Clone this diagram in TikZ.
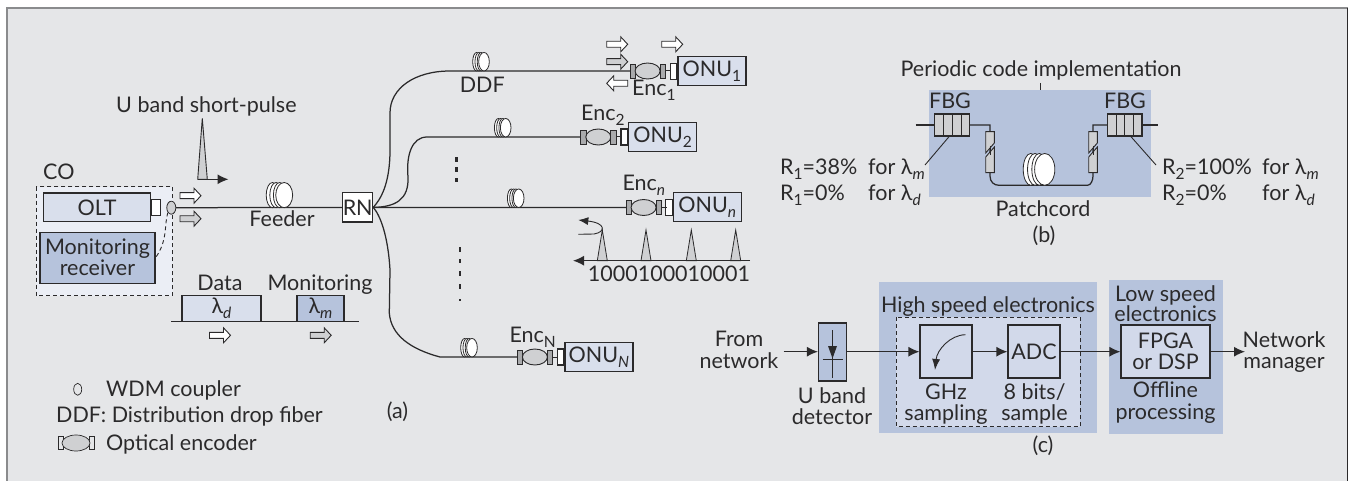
\documentclass[tikz,border=0pt]{standalone}
\usepackage{fontspec}
\setmainfont{Lato}
\usetikzlibrary{arrows.meta,calc,shapes.geometric}
\definecolor{bgg}{HTML}{E5E6E8}
\definecolor{frameg}{HTML}{8A8B8D}
\definecolor{ink}{HTML}{2B2A2B}
\definecolor{lightb}{HTML}{D9DFEC}
\definecolor{midb}{HTML}{B6C3DC}
\definecolor{paleb}{HTML}{EBEEF5}
\definecolor{innerb}{HTML}{D2D9EA}
\definecolor{greyf}{HTML}{CFD0D2}
\definecolor{greyd}{HTML}{A9AAAC}
\tikzset{
  txt/.style={text=ink,font=\fontsize{21.5}{21}\selectfont,inner sep=0pt,align=center},
  box/.style={draw=ink,line width=1.2pt,inner sep=0pt},
  onubox/.style={box,txt,fill=lightb,minimum width=68pt,minimum height=29pt,anchor=west},
  plug/.style={box,fill=white,minimum width=6.5pt,minimum height=16pt,anchor=east},
  fib/.style={draw=ink,line width=1.25pt},
  thin/.style={draw=ink,line width=0.9pt},
  conn/.style={draw=ink,line width=1.25pt,-{Latex[length=11pt,width=10pt]}},
  warrow/.style={draw=ink,line width=0.9pt,fill=#1},
  dashbox/.style={draw=ink,line width=0.9pt,dash pattern=on 4pt off 3pt},
  flowbox/.style={box,txt,fill=innerb,minimum height=53pt},
  bluezone/.style={fill=midb},
}
\newcommand{\lowsub}[1]{\raisebox{-0.42ex}{\fontsize{15.5}{15.5}\selectfont #1}}
\newcommand{\blockR}[2]{\draw[warrow=#2] ($(#1)+(-10.5,-3)$) -- ++(14,0) -- ++(0,-4.5) -- ++(7,7.5) -- ++(-7,7.5) -- ++(0,-4.5) -- ++(-14,0) -- cycle;}
\newcommand{\blockL}[2]{\draw[warrow=#2] ($(#1)+(10.5,-3)$) -- ++(-14,0) -- ++(0,-4.5) -- ++(-7,7.5) -- ++(7,7.5) -- ++(0,-4.5) -- ++(14,0) -- cycle;}
\newcommand{\coil}[3]{\begin{scope}[shift={(#1)},xscale=#2,yscale=#3]
 \foreach \dx in {-5,-3,-1}{\draw[draw=ink,fill=white,line width=0.8pt] (\dx,-9) ellipse (3.5 and 9);}
 \draw[draw=ink,fill=white,line width=0.8pt] (1.5,-9) ellipse (4.7 and 9);
 \end{scope}}
\newcommand{\enc}[1]{\begin{scope}[shift={(#1)}]
 \draw[draw=ink,fill=greyd,line width=0.9pt] (0,-7) rectangle (5.3,7);
 \draw[draw=ink,fill=greyf,line width=0.9pt] (17.6,0) ellipse (12.5 and 8);
 \draw[draw=ink,fill=greyd,line width=0.9pt] (30,-7) rectangle (35.3,7);
 \draw[draw=ink,line width=1pt] (35.3,0) -- (40.5,0);
 \end{scope}}
\begin{document}
\begin{tikzpicture}[x=1pt,y=-1pt]
\useasboundingbox (0,0) rectangle (1351,481);
\fill[white] (0,0) rectangle (1351,481);
\fill[bgg] (7,8) rectangle (1347,481);
\fill[frameg] (6,7) rectangle (1348,8.7);
\fill[frameg] (6,7) rectangle (8,481);
\fill[ink] (1347,8) rectangle (1348.3,481);

% ---- (a) CO
\node[txt,anchor=base west] (colab) at (43,179) {CO};
\draw[dashbox,fill=paleb] (36,186.7) rectangle (172.7,295.7);
\node[box,txt,fill=lightb,minimum width=107.5pt,minimum height=28.7pt] (olt) at (97,207.3) {OLT};
\node[box,fill=white,minimum width=9pt,minimum height=16pt,anchor=west] (oltc) at (150.7,207.3) {};
\node[box,txt,fill=midb,minimum width=115pt,minimum height=51pt] (mon) at (97.5,257.7) {Monitoring\\receiver};
\node[draw=ink,fill=greyf,line width=0.8pt,ellipse,minimum width=9pt,minimum height=13pt,inner sep=0pt] (wdm) at (171.3,207.7) {};
\draw[dashbox] (wdm.south west) .. controls (164,225) and (168,240) .. (mon.east);

\node[box,txt,fill=white,minimum width=29.3pt,minimum height=29.3pt] (rn) at (357.7,207.4) {RN};
\draw[fib] (wdm.east) -- (rn.west);
\coil{281.5,207.7}{1.8}{1.4}
\node[txt,anchor=base] (feeder) at (282,226.7) {Feeder};

\blockR{190.5,195.7}{white}
\blockR{190.5,218.7}{greyf}

% U band short-pulse
\node[txt,anchor=base west] (uband) at (116,112.7) {U band short-pulse};
\draw[draw=ink,fill=greyf,line width=0.9pt] (197.7,179.3) -- (202.3,118.3) -- (207.3,179.3) -- cycle;
\coordinate (p0) at (197.7,179.3);
\coordinate (p1) at (228.5,179.3);
\draw[conn] (p0) -- (p1);

% Data and monitoring
\node[txt,anchor=base] (data) at (220,290) {Data};
\node[txt,anchor=base] (moni) at (320,290) {Monitoring};
\node[box,txt,fill=lightb,minimum width=79pt,minimum height=25.6pt] (ld) at (221.5,308.5) {λ\lowsub{\itshape d}};
\node[box,txt,fill=midb,minimum width=47pt,minimum height=25.6pt] (lm) at (320.5,308.5) {λ\lowsub{\itshape m}};
\coordinate (b0) at (171,321.3); \coordinate (b1) at (359,321.3);
\draw[fib] (b0) -- (b1);
\blockR{220,335.3}{white}
\blockR{320.7,335.3}{greyf}

% Legend
\node[draw=ink,fill=bgg,line width=0.7pt,ellipse,minimum width=8pt,minimum height=12pt,inner sep=0pt] (legw) at (77.7,389.3) {};
\node[txt,anchor=base west] (l1) at (106,396) {WDM coupler};
\node[txt,anchor=base west] (l2) at (56,422) {DDF: Distribution drop fiber};
\begin{scope}[shift={(58,443)}]
 \draw[draw=ink,fill=bgg,line width=0.7pt] (0,-6.5) rectangle (5,6.5);
 \draw[draw=ink,fill=bgg,line width=0.7pt] (31,-6.5) rectangle (36,6.5);
 \draw[draw=ink,fill=greyf,line width=0.7pt] (18,0) ellipse (14 and 8);
\end{scope}
\node[txt,anchor=base west] (l3) at (106,450.7) {Optical encoder};
\node[txt,anchor=base] (la) at (397.5,418.5) {(a)};

% ---- ONUs
\node[onubox] (o1) at (677.3,71.3) {ONU\lowsub{1}};
\node[plug] (o1c) at (o1.west) {};
\enc{630,71}
\node[onubox] (o2) at (628,137) {ONU\lowsub{2}};
\node[plug] (o2c) at (o2.west) {};
\enc{580.7,137}
\node[onubox] (on) at (672.7,207.3) {ONU\lowsub{\itshape n}};
\node[plug] (onc) at (on.west) {};
\enc{626,207.5}
\node[onubox] (oN) at (564.3,357) {ONU\lowsub{\itshape N}};
\node[plug] (oNc) at (oN.west) {};
\enc{517.3,357}

\coordinate (e1) at (630,71); \coordinate (e2) at (580.7,137); \coordinate (en) at (626,207.5); \coordinate (eN) at (517.3,357);
\draw[fib] (rn.east) .. controls (380,200) and (390,185) .. (390,150) -- (390,113) .. controls (390,88) and (415,71) .. (450,71) -- (e1);
\draw[fib] (rn.east) .. controls (395,207) and (409,200) .. (408,177) .. controls (406,155) and (412,137) .. (427,137) -- (e2);
\draw[fib] (rn.east) -- (en);
\draw[fib] (rn.east) .. controls (380,215) and (388,235) .. (390,270) -- (389.3,313) .. controls (391,335) and (410,349) .. (440,357) -- (eN);
\coil{482.3,71}{1.13}{1.03}
\coil{504,137}{1.13}{1.03}
\coil{517,207.5}{1.13}{1.03}
\coil{470.3,357}{1.13}{1.03}

\node[txt,anchor=base] (ddf) at (482.3,92.7) {DDF};
\node[txt,anchor=base west] (en1) at (632,96) {Enc\lowsub{1}};
\node[txt,anchor=base west] (en2) at (581,120.7) {Enc\lowsub{2}};
\node[txt,anchor=base west] (enn) at (622.3,191) {Enc\lowsub{\itshape n}};
\node[txt,anchor=base west] (enN) at (509.3,342.7) {Enc\lowsub{N}};

\blockR{617.2,44.3}{white}
\blockR{672.2,44.3}{white}
\blockR{617.2,61.7}{greyf}
\blockL{617.2,83.3}{white}

% dots
\foreach \ya/\yb in {156.7/162,166.7/171.7,177.7/182} \fill[ink] (454.5,\ya) rectangle (457.5,\yb);
\foreach \ya/\yb in {247/251.5,258.5/263,271/275.5,284/288.5,299/301} \fill[ink] (458.7,\ya) rectangle (461.3,\yb);

% pulses
\foreach \x in {602.3,646,691.3,735.7}{\draw[draw=ink,fill=greyf,line width=0.8pt] (\x-5,260.7) -- (\x,230) -- (\x+5,260.7) -- cycle;}
\coordinate (pa) at (750,260.7); \coordinate (pb) at (573,260.7);
\draw[conn] (pa) -- (pb);
\node[txt,anchor=base] (code) at (669,281.7) {1000100010001};
\coordinate (ra) at (578.3,234.3); \coordinate (rb) at (578.3,220);
\draw[draw=ink,line width=0.9pt,-{Latex[length=10pt,width=8pt]}] (ra) -- (594,234) .. controls (606,232) and (606,223) .. (rb);

% ---- (b)
\fill[bluezone] (929,90) rectangle (1151,196.7);
\node[txt,anchor=base] (pci) at (1041,76.7) {Periodic code implementation};
\coordinate (pct) at (1040,83);
\draw[thin] (pct) -- (1040,90);
\node[txt,anchor=base] (fbg1) at (950,109) {FBG};
\node[txt,anchor=base] (fbg2) at (1125,109) {FBG};
\node[box,fill=greyf,minimum width=35pt,minimum height=22pt] (g1) at (952.1,125) {};
\foreach \x in {943,952,961}{\draw[draw=ink,line width=1pt] (\x,114) -- (\x,136);}
\node[box,fill=greyf,minimum width=34.5pt,minimum height=22pt] (g2) at (1124.7,125) {};
\foreach \x in {1116,1124.6,1133}{\draw[draw=ink,line width=1pt] (\x,114) -- (\x,136);}
\coordinate (f1) at (915.7,125); \coordinate (f2) at (1158,125);
\draw[fib] (f1) -- (g1.west);
\draw[fib] (g2.east) -- (f2);
\draw[fib] (g1.east) -- (990,125) -- (990,176) .. controls (990,182) and (994,185.3) .. (999,185.3) -- (1087.5,185.3) .. controls (1091,185.3) and (1093,180) .. (1093,176) -- (1093,125) -- (g2.west);
\foreach \x in {990,1093}{
 \draw[draw=ink,fill=greyf,line width=0.9pt] (\x-4.3,131.7) -- (\x+4.3,131.7) -- (\x+4.3,143) -- (\x-4.3,153) -- cycle;
 \draw[draw=ink,fill=greyf,line width=0.9pt] (\x-4.3,157) -- (\x+4.3,147) -- (\x+4.3,172.7) -- (\x-4.3,172.7) -- cycle;
 \draw[draw=ink,line width=0.9pt] (\x,146) -- (\x,155);
}
\coil{1041.5,185.3}{2.15}{1.77}
\coordinate (la1) at (949,136.7); \coordinate (la2) at (925,165);
\draw[thin] (la1) -- (la2);
\coordinate (lb1) at (1131,136.7); \coordinate (lb2) at (1156,165);
\draw[thin] (lb1) -- (lb2);
\node[txt,anchor=base west] (r1a) at (780,175) {R\lowsub{1}=38\%};
\node[txt,anchor=base west] (r1b) at (868,175) {for λ\lowsub{\itshape m}};
\node[txt,anchor=base west] (r1c) at (780,200.7) {R\lowsub{1}=0\%};
\node[txt,anchor=base west] (r1d) at (868,200.7) {for λ\lowsub{\itshape d}};
\node[txt,anchor=base west] (r2a) at (1162,175) {R\lowsub{2}=100\%};
\node[txt,anchor=base west] (r2b) at (1262,175) {for λ\lowsub{\itshape m}};
\node[txt,anchor=base west] (r2c) at (1162,200.7) {R\lowsub{2}=0\%};
\node[txt,anchor=base west] (r2d) at (1262,200.7) {for λ\lowsub{\itshape d}};
\node[txt,anchor=base] (patch) at (1043,216.7) {Patchcord};
\node[txt,anchor=base] (lb) at (1044,242) {(b)};

% ---- (c)
\fill[bluezone] (879,282) rectangle (1097,432.7);
\fill[bluezone] (1109,280) rectangle (1223,433.7);
\draw[dashbox,fill=innerb] (896.4,317) rectangle (1080,426.7);
\node[txt,anchor=base] (hs) at (988,312.7) {High speed electronics};
\node[txt,anchor=base] (ls1) at (1165.5,301) {Low speed};
\node[txt,anchor=base] (ls2) at (1165.5,321.7) {electronics};
\node[txt,anchor=base] (fn1) at (739,346.7) {From};
\node[txt,anchor=base] (fn2) at (739,368) {network};
\node[box,fill=midb,minimum width=28pt,minimum height=58pt] (det) at (832.5,352) {};
\draw[draw=ink,line width=0.9pt] (832.5,330) -- (832.5,378);
\draw[draw=ink,line width=0.9pt] (822.5,359) -- (842.5,359);
\fill[ink] (828,346) -- (837,346) -- (832.5,358.5) -- cycle;
\node[flowbox,minimum width=52pt] (ghz) at (946,351.5) {};
\draw[draw=ink,line width=0.9pt,-{Latex[length=11pt,width=8pt]}] (965.5,334.7) .. controls (950,335) and (937,350) .. (935,370);
\node[flowbox,minimum width=52pt] (adc) at (1034,351.5) {ADC};
\node[flowbox,minimum width=89pt] (fpga) at (1165.5,351.5) {FPGA\\or DSP};
\coordinate (cin) at (783.6,351.7);
\node[txt,anchor=base] (ub1) at (832,403) {U band};
\node[txt,anchor=base] (ub2) at (832,424) {detector};
\node[txt,anchor=base] (g1t) at (946,399.3) {GHz};
\node[txt,anchor=base] (g2t) at (946,420.7) {sampling};
\node[txt,anchor=base] (b1t) at (1034.5,399.3) {8 bits/};
\node[txt,anchor=base] (b2t) at (1034.5,420.7) {sample};
\node[txt,anchor=base] (of1) at (1165.5,397) {Offline};
\node[txt,anchor=base] (of2) at (1165.5,419) {processing};
\node[txt,anchor=base] (nm1) at (1284,347) {Network};
\node[txt,anchor=base] (nm2) at (1284,368) {manager};
\node[txt,anchor=base] (lc) at (1043,452.5) {(c)};
\coordinate (cout) at (1245,351.7);
\draw[conn] (cin) -- (cin -| det.west);
\draw[conn] (det.east |- cin) -- (ghz.west |- cin);
\draw[conn] (ghz.east |- cin) -- (adc.west |- cin);
\draw[conn] (adc.east |- cin) -- (fpga.west |- cin);
\draw[conn] (fpga.east |- cin) -- (cout);
\end{tikzpicture}
\end{document}
